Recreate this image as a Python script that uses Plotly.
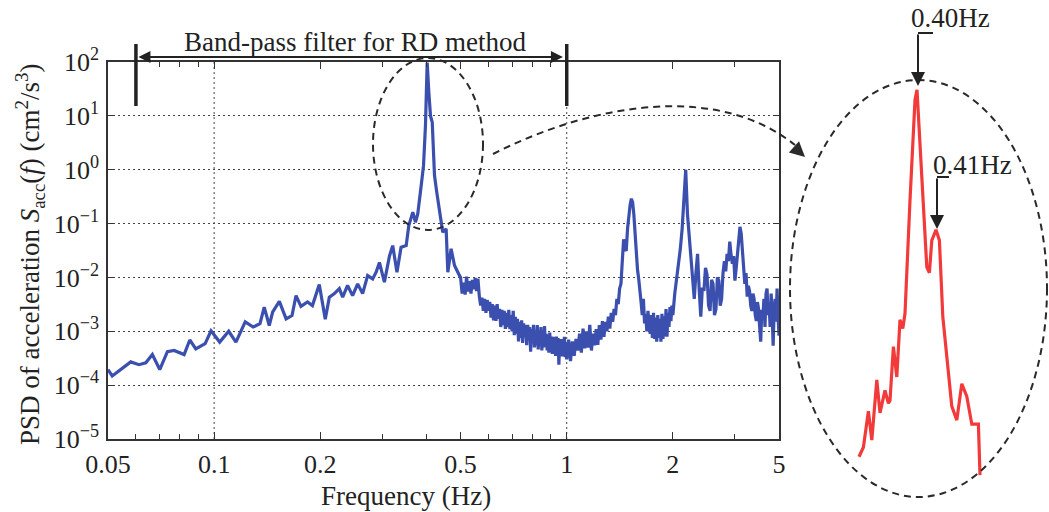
import math
import plotly.graph_objects as go

# ---------------- data ----------------
freq_low = [0.050, 0.0514, 0.058, 0.0612, 0.064, 0.0668, 0.0701, 0.0737, 0.077, 0.0822,
            0.0853, 0.0887, 0.0943, 0.098, 0.1037, 0.110, 0.1153, 0.1225, 0.129, 0.1349,
            0.1387, 0.1433, 0.1466, 0.1531, 0.160, 0.1663, 0.1707, 0.1763, 0.184, 0.190,
            0.1987, 0.2066, 0.2122, 0.2193, 0.2265, 0.2315, 0.239, 0.247, 0.2553, 0.2637,
            0.2725, 0.2816, 0.288, 0.2943, 0.304, 0.3143, 0.321, 0.330, 0.339, 0.3505,
            0.3565, 0.366, 0.3724, 0.378, 0.3866, 0.3925, 0.3975, 0.402, 0.4064, 0.4108,
            0.4155, 0.4217, 0.428, 0.4355, 0.445, 0.455, 0.460, 0.470, 0.4806, 0.4966]
psd_low = [1.95e-4, 1.48e-4, 2.7e-4, 2.4e-4, 2.6e-4, 3.7e-4, 1.95e-4, 4.2e-4, 4.4e-4, 3.7e-4,
           6.9e-4, 4.7e-4, 5.9e-4, 1.02e-3, 6.3e-4, 1.0e-3, 6.3e-4, 1.5e-3, 1.2e-3, 1.38e-3,
           2.8e-3, 1.28e-3, 2.3e-3, 3.6e-3, 1.7e-3, 1.96e-3, 4.6e-3, 2.9e-3, 3.5e-3, 3.0e-3,
           7.4e-3, 1.67e-3, 4.3e-3, 5.0e-3, 6.2e-3, 4.3e-3, 7.1e-3, 4.6e-3, 7.6e-3, 5.0e-3,
           1.08e-2, 9.4e-3, 1.25e-2, 1.9e-2, 8.2e-3, 2.5e-2, 3.9e-2, 1.25e-2, 3.65e-2, 3.9e-2,
           9.2e-2, 0.163, 0.106, 0.151, 0.51, 1.19, 6.6, 98, 27, 10,
           7.6, 0.78, 0.38, 0.187, 0.069, 0.08, 1.25e-2, 3.4e-2, 1.66e-2, 1.08e-2]

freq_mid = [0.500, 0.505, 0.510, 0.515, 0.520, 0.525, 0.530, 0.535, 0.540, 0.545,
            0.550, 0.555, 0.560, 0.565, 0.570, 0.575, 0.580, 0.585, 0.590, 0.595,
            0.600, 0.605, 0.610, 0.615, 0.620, 0.625, 0.630, 0.635, 0.640, 0.645,
            0.650, 0.655, 0.660, 0.665, 0.670, 0.675, 0.680, 0.685, 0.690, 0.695,
            0.700, 0.705, 0.710, 0.715, 0.720, 0.725, 0.730, 0.735, 0.740, 0.745,
            0.750, 0.755, 0.760, 0.765, 0.770, 0.775, 0.780, 0.785, 0.790, 0.795,
            0.800, 0.805, 0.810, 0.815, 0.820, 0.825, 0.830, 0.835, 0.840, 0.845,
            0.850, 0.855, 0.860, 0.865, 0.870, 0.875, 0.880, 0.885, 0.890, 0.895,
            0.900, 0.905, 0.910, 0.915, 0.920, 0.925, 0.930, 0.935, 0.940, 0.945,
            0.950, 0.955, 0.960, 0.965, 0.970, 0.975, 0.980, 0.985, 0.990, 0.995, 1.000]
psd_mid = [1.0e-2, 5.0e-3, 8.0e-3, 4.8e-3, 1.03e-2, 5.5e-3, 8.5e-3, 5.0e-3, 9.0e-3, 6.0e-3,
           9.8e-3, 5.6e-3, 9.5e-3, 4.5e-3, 3.0e-3, 4.2e-3, 2.4e-3, 4.0e-3, 2.2e-3, 3.8e-3,
           2.4e-3, 3.5e-3, 1.8e-3, 3.2e-3, 1.6e-3, 3.0e-3, 1.56e-3, 3.2e-3, 1.7e-3, 2.6e-3,
           1.2e-3, 2.5e-3, 1.3e-3, 2.4e-3, 1.11e-3, 2.2e-3, 1.2e-3, 2.5e-3, 1.1e-3, 2.0e-3,
           1.0e-3, 2.4e-3, 8.5e-4, 1.86e-3, 9.0e-4, 1.7e-3, 6.5e-4, 1.5e-3, 7.5e-4, 1.6e-3,
           6.1e-4, 1.4e-3, 8.0e-4, 1.3e-3, 5.5e-4, 1.32e-3, 7.0e-4, 1.2e-3, 4.2e-4, 1.1e-3,
           6.0e-4, 1.32e-3, 5.0e-4, 1.0e-3, 5.5e-4, 1.3e-3, 4.6e-4, 9.5e-4, 5.8e-4, 1.2e-3,
           4.4e-4, 9.0e-4, 5.0e-4, 1.25e-3, 5.5e-4, 9.0e-4, 4.4e-4, 8.5e-4, 4.0e-4, 9.5e-4,
           4.6e-4, 8.0e-4, 3.8e-4, 7.9e-4, 4.5e-4, 7.0e-4, 3.5e-4, 8.0e-4, 4.0e-4, 7.5e-4,
           2.4e-4, 7.0e-4, 3.6e-4, 7.2e-4, 3.4e-4, 6.6e-4, 3.8e-4, 7.9e-4, 3.3e-4, 6.0e-4, 3.0e-4]

freq_high1 = [1.0125, 1.025, 1.0375, 1.05, 1.0625, 1.075, 1.0875, 1.10, 1.1125, 1.125,
              1.1375, 1.15, 1.1625, 1.175, 1.1875, 1.20, 1.2125, 1.225, 1.2375, 1.25,
              1.2625, 1.275, 1.2875, 1.30, 1.3125, 1.325, 1.3375, 1.35, 1.3625, 1.375,
              1.3875, 1.40, 1.4125, 1.425, 1.4375, 1.45, 1.4625, 1.475, 1.4875, 1.50,
              1.5125, 1.525, 1.5375, 1.55, 1.5625, 1.575, 1.5875, 1.60, 1.6125, 1.625,
              1.6375, 1.65, 1.6625, 1.675, 1.6875, 1.70, 1.7125, 1.725, 1.7375, 1.75,
              1.7625, 1.775, 1.7875, 1.80, 1.8125, 1.825, 1.8375, 1.85, 1.8625, 1.875,
              1.8875, 1.90, 1.9125, 1.925, 1.9375, 1.95, 1.9625, 1.975, 1.9875, 2.00]
psd_high1 = [7.0e-4, 2.8e-4, 6.5e-4, 3.5e-4, 7.2e-4, 4.4e-4, 9.0e-4, 4.0e-4, 1.12e-3, 4.8e-4,
             1.0e-3, 5.0e-4, 1.32e-3, 4.4e-4, 9.0e-4, 5.5e-4, 1.1e-3, 5.6e-4, 1.3e-3, 7.0e-4,
             1.55e-3, 7.9e-4, 1.5e-3, 1.0e-3, 1.86e-3, 1.12e-3, 2.2e-3, 1.5e-3, 2.6e-3, 2.0e-3,
             4.0e-3, 3.2e-3, 6.2e-3, 7.6e-3, 2.0e-2, 5.1e-2, 3.5e-2, 3.1e-2, 8.0e-2, 0.15,
             0.22, 0.29, 0.25, 0.15, 5.5e-2, 2.4e-2, 1.4e-2, 9.4e-3, 4.5e-3, 3.5e-3,
             2.0e-3, 4.0e-3, 1.4e-3, 2.1e-3, 1.0e-3, 2.4e-3, 1.3e-3, 9.0e-4, 2.0e-3, 7.5e-4,
             2.2e-3, 7.2e-4, 1.8e-3, 6.4e-4, 2.0e-3, 7.5e-4, 1.7e-3, 6.4e-4, 2.1e-3, 7.2e-4,
             1.9e-3, 8.0e-4, 2.6e-3, 7.9e-4, 2.2e-3, 1.2e-3, 2.8e-3, 1.55e-3, 3.0e-3, 2.0e-3]

freq_high2 = [2.025, 2.05, 2.075, 2.10, 2.125, 2.15, 2.175, 2.20, 2.225, 2.25,
              2.275, 2.30, 2.325, 2.35, 2.375, 2.40, 2.425, 2.45, 2.475, 2.50,
              2.525, 2.55, 2.575, 2.60, 2.625, 2.65, 2.675, 2.70, 2.725, 2.75,
              2.775, 2.80, 2.825, 2.85, 2.875, 2.90, 2.925, 2.95, 2.975, 3.00,
              3.025, 3.05, 3.075, 3.10, 3.125, 3.15, 3.175, 3.20, 3.225, 3.25,
              3.275, 3.30, 3.325, 3.35, 3.375, 3.40, 3.425, 3.45, 3.475, 3.50,
              3.525, 3.55, 3.575, 3.60, 3.625, 3.65, 3.675, 3.70, 3.725, 3.75,
              3.775, 3.80, 3.825, 3.85, 3.875, 3.90, 3.925, 3.95, 3.975, 4.00]
psd_high2 = [5.0e-3, 9.4e-3, 1.5e-2, 3.4e-2, 8.0e-2, 0.23, 1.0, 0.15, 6.0e-2, 2.4e-2,
             8.0e-3, 4.0e-3, 1.2e-2, 2.75e-2, 6.0e-3, 1.86e-3, 6.5e-3, 5.6e-3, 1.5e-2, 1.12e-2,
             3.0e-3, 2.4e-3, 9.0e-3, 7.6e-3, 2.0e-3, 2.6e-3, 1.0e-2, 8.7e-3, 3.0e-3, 4.0e-3,
             1.2e-2, 2.0e-2, 1.3e-2, 2.75e-2, 2.0e-2, 4.6e-2, 2.6e-2, 1.8e-2, 2.5e-2, 8.7e-3,
             1.5e-2, 2.75e-2, 5.0e-2, 8.7e-2, 6.5e-2, 3.4e-2, 1.5e-2, 7.6e-3, 1.2e-2, 4.4e-3,
             7.0e-3, 5.6e-3, 3.0e-3, 2.4e-3, 5.0e-3, 4.0e-3, 2.0e-3, 1.55e-3, 3.5e-3, 2.6e-3,
             1.2e-3, 6.4e-4, 2.5e-3, 1.86e-3, 4.0e-3, 1.2e-3, 5.0e-3, 6.2e-3, 2.0e-3, 3.2e-3,
             1.2e-3, 5.0e-3, 2.0e-3, 5.4e-4, 2.5e-3, 4.0e-3, 1.5e-3, 6.2e-3, 2.0e-3, 8.3e-4]

# zoomed detail around the fundamental peak (red inset)
zoom_freq = [0.371, 0.3732, 0.3757, 0.3774, 0.3799, 0.3815, 0.384, 0.3857, 0.3865, 0.3882,
             0.3899, 0.3915, 0.3929, 0.394, 0.3965, 0.399, 0.400, 0.4015, 0.4032, 0.4049,
             0.4062, 0.4074, 0.4095, 0.4112, 0.4129, 0.4149, 0.4174, 0.4199, 0.4224, 0.4249,
             0.4274, 0.429, 0.4307, 0.4315]
zoom_psd = [0.152, 0.18, 0.34, 0.204, 0.59, 0.33, 0.49, 0.39, 0.41, 1.06,
            0.62, 1.7, 1.46, 1.9, 14, 82, 98, 40, 12.5, 4.3,
            3.9, 6.9, 8.3, 6.9, 1.8, 0.84, 0.37, 0.29, 0.55, 0.44,
            0.27, 0.27, 0.27, 0.11]

x_tickvals = [0.05, 0.1, 0.2, 0.5, 1, 2, 4]
x_ticktext = ["0.05", "0.1", "0.2", "0.5", "1", "2", "5"]
x_minor = [0.06, 0.07, 0.08, 0.09, 0.3, 0.4, 0.6, 0.7, 0.8, 0.9, 3]
y_tickvals = [1e-5, 1e-4, 1e-3, 1e-2, 1e-1, 1e0, 1e1, 1e2]
y_ticktext = ["10<sup>\u22125</sup>", "10<sup>\u22124</sup>", "10<sup>\u22123</sup>", "10<sup>\u22122</sup>",
              "10<sup>\u22121</sup>", "10<sup>0</sup>", "10<sup>1</sup>", "10<sup>2</sup>"]
band_pass = [0.06, 1.0]
peak_labels = ["0.40Hz", "0.41Hz"]

for a, b in [(freq_low, psd_low), (freq_mid, psd_mid), (freq_high1, psd_high1),
             (freq_high2, psd_high2), (zoom_freq, zoom_psd)]:
    assert len(a) == len(b), (len(a), len(b))

freq = freq_low + freq_mid + freq_high1 + freq_high2
psd = psd_low + psd_mid + psd_high1 + psd_high2

# ---------------- layout helpers ----------------
W, H = 1049, 512
FONT = "Liberation Serif, Times New Roman, serif"
INK = "#222222"
def px(x):
    return x / W
def py(y):
    return 1 - y / H

fig = go.Figure()
fig.add_trace(go.Scatter(x=freq, y=psd, mode="lines",
                         line=dict(color="#3b4fae", width=3.2), xaxis="x", yaxis="y",
                         showlegend=False))
fig.add_trace(go.Scatter(x=zoom_freq, y=zoom_psd, mode="lines",
                         line=dict(color="#f23a3a", width=3.2), xaxis="x2", yaxis="y2",
                         showlegend=False))

axis_common = dict(showline=True, linecolor="#333333", linewidth=1.5, mirror="ticks",
                   ticks="inside", tickcolor="#333333", tickwidth=1.2, automargin=False,
                   tickfont=dict(family=FONT, size=26, color=INK), zeroline=False)

fig.update_layout(
    width=W, height=H, margin=dict(l=0, r=0, t=0, b=0, autoexpand=False),
    paper_bgcolor="white", plot_bgcolor="white",
    xaxis=dict(type="log", range=[math.log10(0.05), math.log10(4)],
               domain=[px(108), px(779)], tickmode="array",
               tickvals=x_tickvals, ticktext=x_ticktext, ticklen=7, showgrid=False,
               minor=dict(tickmode="array", tickvals=x_minor, ticks="inside", ticklen=5,
                          tickcolor="#333333", showgrid=False),
               ticklabelstandoff=1, **axis_common),
    yaxis=dict(type="log", range=[-5, 2], domain=[py(439), py(62)], tickmode="array",
               tickvals=y_tickvals, ticktext=y_ticktext, ticklen=6,
               showgrid=True, gridcolor="#444444", gridwidth=1, griddash="2px,3px",
               ticklabelstandoff=2, **axis_common),
    xaxis2=dict(range=[0.365, 0.435], domain=[px(847), px(987)], visible=False,
                automargin=False),
    yaxis2=dict(type="log", range=[-1.1, 2.1], domain=[py(493.6), py(75.6)],
                anchor="x2", visible=False, automargin=False),
)

shapes = []
# vertical grid lines at decades
for gx in [0.1, 1.0]:
    shapes.append(dict(type="line", xref="x", yref="y domain", x0=gx, x1=gx, y0=0, y1=1,
                       line=dict(color="#444444", width=1, dash="2px,3px"), layer="below"))
# band-pass limit bars
for bx in band_pass:
    shapes.append(dict(type="line", xref="x", yref="paper", x0=bx, x1=bx,
                       y0=py(106), y1=py(44), line=dict(color=INK, width=3.5)))
dash_style = dict(color="#2a2a2a", width=2, dash="7px,5px")
# ellipse around peak in the main plot
shapes.append(dict(type="circle", xref="paper", yref="paper",
                   x0=px(373), x1=px(483), y0=py(230), y1=py(58), line=dash_style))
# ellipse around the zoomed view
shapes.append(dict(type="circle", xref="paper", yref="paper",
                   x0=px(790), x1=px(1047), y0=py(497), y1=py(80), line=dash_style))
# connector curve
path = "M {:.5f},{:.5f} C {:.5f},{:.5f} {:.5f},{:.5f} {:.5f},{:.5f}".format(
    px(493), py(154), px(600), py(100), px(720), py(85), px(795), py(145))
shapes.append(dict(type="path", xref="paper", yref="paper", path=path, line=dash_style))
# brackets for peak labels
shapes.append(dict(type="line", xref="paper", yref="paper", x0=px(918), x1=px(933),
                   y0=py(33), y1=py(33), line=dict(color=INK, width=2)))
shapes.append(dict(type="line", xref="paper", yref="paper", x0=px(937), x1=px(949),
                   y0=py(177), y1=py(177), line=dict(color=INK, width=2)))
fig.update_layout(shapes=shapes)

ann = []
txt = dict(family=FONT, size=27, color=INK)
ann.append(dict(text="Band-pass filter for RD method", xref="paper", yref="paper",
                x=px(355), y=py(42), showarrow=False, font=txt, xanchor="center", yanchor="middle"))
ann.append(dict(text="", xref="x", yref="paper", x=math.log10(0.061), y=py(57),
                axref="x", ax=math.log10(0.985), ayref="pixel", ay=0,
                showarrow=True, arrowhead=2, arrowside="end+start", arrowsize=1.2,
                arrowwidth=2, arrowcolor=INK))
# arrow head at the end of the connector curve
ann.append(dict(text="", xref="paper", yref="paper", x=px(805), y=py(157), ax=-12, ay=-11,
                showarrow=True, arrowhead=2, arrowsize=1.5, arrowwidth=2, arrowcolor="#2a2a2a"))
# peak label arrows
ann.append(dict(text="", xref="paper", yref="paper", x=px(918), y=py(86), ax=0, ay=-53,
                showarrow=True, arrowhead=2, arrowsize=1.4, arrowwidth=2, arrowcolor=INK))
ann.append(dict(text="", xref="paper", yref="paper", x=px(937), y=py(229), ax=0, ay=-52,
                showarrow=True, arrowhead=2, arrowsize=1.4, arrowwidth=2, arrowcolor=INK))
ann.append(dict(text=peak_labels[0], xref="paper", yref="paper", x=px(950), y=py(18),
                showarrow=False, font=txt, xanchor="center", yanchor="middle"))
ann.append(dict(text=peak_labels[1], xref="paper", yref="paper", x=px(972), y=py(165),
                showarrow=False, font=txt, xanchor="center", yanchor="middle"))
# axis titles
ann.append(dict(text="Frequency (Hz)", xref="paper", yref="paper", x=px(406), y=py(496),
                showarrow=False, font=txt, xanchor="center", yanchor="middle"))
ann.append(dict(text="PSD of acceleration <i>S</i><sub>acc</sub>(<i>f</i>) (cm<sup>2</sup>/s<sup>3</sup>)",
                xref="paper", yref="paper", x=px(30), y=py(255), textangle=-90,
                showarrow=False, font=txt, xanchor="center", yanchor="middle"))
fig.update_layout(annotations=ann)

fig.write_html("out.html")
